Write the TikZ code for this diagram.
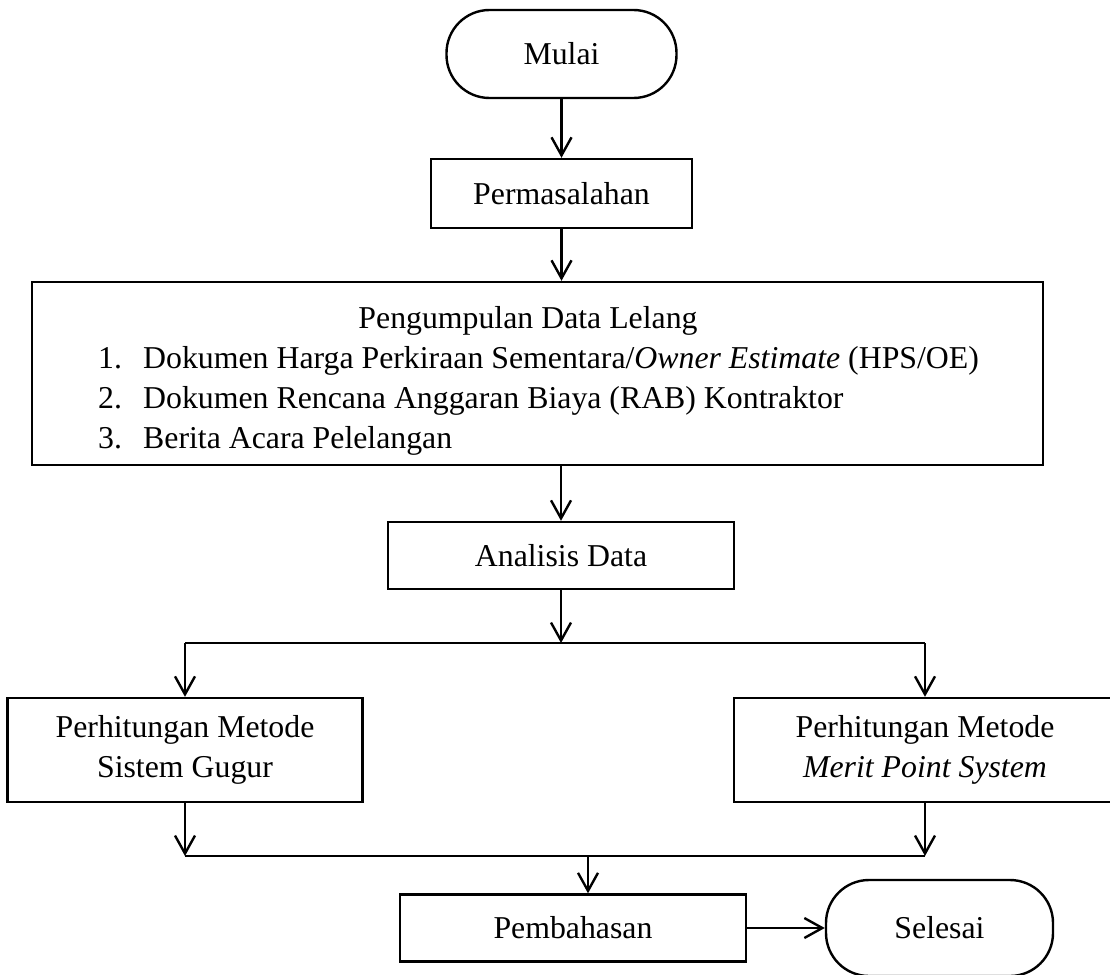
\documentclass[tikz,border=0pt]{standalone}
\usepackage{fontspec}
\setmainfont{Liberation Serif}
\usetikzlibrary{arrows.meta,calc}

\begin{document}
\begin{tikzpicture}[x=1pt, y=-1pt, line width=2.4pt,
  box/.style={draw, rectangle, align=center, inner sep=0pt},
  terminal/.style={draw, rectangle, rounded corners=43pt, inner sep=0pt},
  arr/.style={-{Straight Barb[length=18pt,width=20pt]}},
  font=\fontsize{31.8pt}{40pt}\selectfont]
\useasboundingbox (0,0) rectangle (1110,974);
\node[terminal, minimum width=230pt, minimum height=88pt] (mulai) at (561.5,54) {Mulai};
\node[box, minimum width=261pt, minimum height=69pt] (masalah) at (561.5,193.5) {Permasalahan};
\node[box, minimum width=1011pt, minimum height=183pt] (kumpul) at (537.5,373.5) {};
\node[anchor=base] (judul) at (528,328) {Pengumpulan Data Lelang};
\node[anchor=base west, inner sep=0pt] (no1) at (97,368) {1.};
\node[anchor=base west, inner sep=0pt] (isi1) at (142,368) {Dokumen Harga Perkiraan Sementara/\textit{Owner Estimate} (HPS/OE)};
\node[anchor=base west, inner sep=0pt] (no2) at (97,408) {2.};
\node[anchor=base west, inner sep=0pt] (isi2) at (142,408) {Dokumen Rencana Anggaran Biaya (RAB) Kontraktor};
\node[anchor=base west, inner sep=0pt] (no3) at (97,448) {3.};
\node[anchor=base west, inner sep=0pt] (isi3) at (142,448) {Berita Acara Pelelangan};
\node[box, minimum width=346pt, minimum height=67pt] (analisis) at (561,555.5) {Analisis Data};
\node[box, minimum width=355pt, minimum height=104pt] (gugur) at (185,750) {Perhitungan Metode\\Sistem Gugur};
\node[box, minimum width=382pt, minimum height=104pt] (merit) at (925,750) {Perhitungan Metode\\\textit{Merit Point System}};
\node[box, minimum width=346pt, minimum height=67pt] (bahas) at (573,928) {Pembahasan};
\node[terminal, minimum width=227pt, minimum height=96pt] (selesai) at (939.5,928) {Selesai};

\coordinate (pisah) at (561,643);
\coordinate (gabung) at (588,856);
\draw[arr] (mulai.south) -- (masalah.north);
\draw[arr] (masalah.south) -- (masalah.south |- kumpul.north);
\draw[arr] (analisis.north |- kumpul.south) -- (analisis.north);
\draw[arr] (analisis.south) -- (pisah);
\draw (gugur.north |- pisah) -- (merit.north |- pisah);
\draw[arr] (gugur.north |- pisah) -- (gugur.north);
\draw[arr] (merit.north |- pisah) -- (merit.north);
\draw[arr] (gugur.south) -- (gugur.south |- gabung);
\draw[arr] (merit.south) -- (merit.south |- gabung);
\draw (gugur.south |- gabung) -- (merit.south |- gabung);
\draw[arr] (gabung) -- (gabung |- bahas.north);
\draw[arr] (bahas.east) -- (selesai.west);
\end{tikzpicture}
\end{document}
